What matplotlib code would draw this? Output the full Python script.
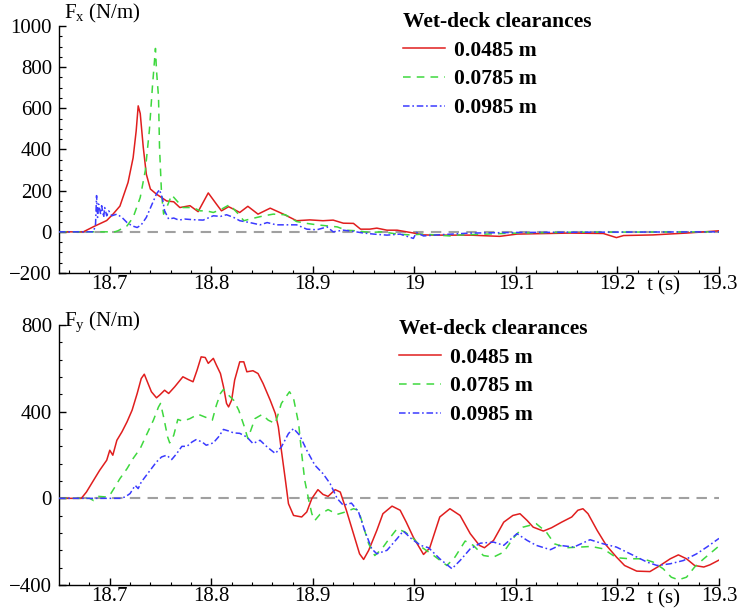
import matplotlib
matplotlib.use("Agg")
import matplotlib.pyplot as plt
from matplotlib.ticker import MultipleLocator, FuncFormatter
from matplotlib.lines import Line2D

plt.rcParams['font.family'] = ['Liberation Serif', 'DejaVu Serif']
plt.rcParams['mathtext.fontset'] = 'custom'
plt.rcParams['mathtext.rm'] = 'Liberation Serif'

# ---- Fx time series (N/m) ----
fx_t_0485 = [18.650, 18.674, 18.684, 18.697, 18.703, 18.710, 18.718, 18.723, 18.726, 18.728,
             18.730, 18.733, 18.736, 18.740, 18.746, 18.756, 18.763, 18.769, 18.779, 18.787,
             18.797, 18.805, 18.810, 18.817, 18.822, 18.828, 18.836, 18.846, 18.858, 18.871,
             18.884, 18.897, 18.910, 18.920, 18.930, 18.940, 18.947, 18.956, 18.963, 18.973,
             18.983, 18.996, 19.009, 19.022, 19.055, 19.084, 19.101, 19.153, 19.186, 19.199,
             19.206, 19.235, 19.268, 19.300]
fx_v_0485 = [0, 0, 25, 55, 85, 125, 240, 360, 490, 612,
             575, 410, 280, 208, 183, 150, 146, 118, 127, 98,
             189, 135, 102, 122, 110, 94, 124, 86, 115, 86,
             54, 58, 54, 57, 42, 41, 13, 13, 18, 8,
             8, -3, -15, -16, -16, -22, -11, -6, -8, -28,
             -18, -15, -6, 5]

fx_t_0785 = [18.650, 18.705, 18.708, 18.717, 18.723, 18.730, 18.735, 18.739, 18.742, 18.745,
             18.746, 18.748, 18.749, 18.751, 18.753, 18.756, 18.761, 18.766, 18.772, 18.782,
             18.789, 18.795, 18.802, 18.810, 18.818, 18.826, 18.832, 18.838, 18.851, 18.861,
             18.873, 18.884, 18.894, 18.904, 18.914, 18.924, 18.933, 18.943, 18.956, 18.969,
             18.983, 18.996, 19.009, 19.035, 19.040, 19.070, 19.101, 19.153, 19.300]
fx_v_0785 = [0, 0, 5, 29, 70, 167, 298, 493, 704, 891,
             785, 655, 411, 184, 86, 118, 179, 151, 118, 118,
             102, 102, 94, 110, 132, 90, 54, 62, 77, 86,
             83, 50, 41, 34, 29, 24, 8, 5, -3, 0,
             -11, -15, -11, -20, -16, -11, -6, -2, 0]

fx_t_0985 = [18.650, 18.684, 18.686, 18.687, 18.688, 18.689, 18.691, 18.692, 18.694, 18.695,
             18.697, 18.699, 18.702, 18.707, 18.712, 18.717, 18.722, 18.727, 18.731, 18.736,
             18.741, 18.746, 18.749, 18.752, 18.754, 18.758, 18.763, 18.768, 18.774, 18.782,
             18.792, 18.802, 18.809, 18.815, 18.822, 18.828, 18.838, 18.848, 18.855, 18.864,
             18.874, 18.884, 18.894, 18.904, 18.914, 18.920, 18.930, 18.940, 18.950, 18.960,
             18.973, 18.986, 18.999, 19.002, 19.009, 19.022, 19.055, 19.101, 19.153, 19.300]
fx_v_0985 = [0, 0, 37, 176, 70, 135, 86, 127, 70, 118,
             78, 102, 78, 86, 70, 45, 29, 21, 34, 70,
             127, 184, 205, 159, 102, 62, 67, 57, 62, 59,
             57, 78, 75, 83, 70, 54, 45, 34, 45, 34,
             34, 34, 13, 10, 24, 0, 8, 2, -6, -11,
             -16, -11, -32, -3, -20, -15, -6, -3, -2, 0]

# ---- Fy time series (N/m) ----
fy_t_0485 = [18.650, 18.672, 18.677, 18.684, 18.690, 18.697, 18.700, 18.703, 18.707, 18.712,
             18.717, 18.722, 18.727, 18.731, 18.734, 18.737, 18.741, 18.746, 18.749, 18.754,
             18.758, 18.764, 18.772, 18.777, 18.782, 18.786, 18.790, 18.794, 18.797, 18.802,
             18.805, 18.809, 18.812, 18.815, 18.817, 18.820, 18.823, 18.828, 18.832, 18.835,
             18.841, 18.846, 18.851, 18.858, 18.863, 18.866, 18.869, 18.873, 18.876, 18.881,
             18.889, 18.894, 18.899, 18.905, 18.910, 18.915, 18.922, 18.927, 18.933, 18.940,
             18.946, 18.950, 18.955, 18.963, 18.969, 18.978, 18.986, 18.992, 18.999, 19.009,
             19.015, 19.025, 19.035, 19.045, 19.055, 19.064, 19.069, 19.078, 19.088, 19.097,
             19.104, 19.111, 19.117, 19.127, 19.135, 19.145, 19.155, 19.161, 19.166, 19.171,
             19.180, 19.189, 19.199, 19.207, 19.219, 19.232, 19.242, 19.252, 19.260, 19.268,
             19.276, 19.285, 19.291, 19.300]
fy_v_0485 = [0, 0, 29, 83, 129, 176, 222, 199, 268, 307,
             353, 407, 484, 553, 573, 538, 492, 464, 476, 499,
             484, 515, 561, 549, 538, 592, 653, 650, 623, 646,
             615, 576, 515, 438, 422, 453, 546, 630, 630, 584,
             589, 576, 530, 453, 392, 330, 222, 83, -25, -79,
             -86, -63, -1, 40, 18, 9, 40, 29, -55, -163,
             -256, -282, -240, -148, -71, -36, -55, -110, -180, -259,
             -230, -86, -48, -79, -163, -217, -228, -194, -110, -79,
             -71, -102, -133, -151, -136, -110, -86, -55, -48, -71,
             -148, -217, -271, -310, -336, -338, -310, -279, -261, -279,
             -310, -317, -307, -285]

fy_t_0785 = [18.650, 18.680, 18.684, 18.689, 18.697, 18.700, 18.705, 18.710, 18.717, 18.723,
             18.730, 18.736, 18.743, 18.748, 18.750, 18.753, 18.757, 18.759, 18.763, 18.767,
             18.772, 18.779, 18.787, 18.795, 18.801, 18.805, 18.809, 18.812, 18.817, 18.822,
             18.827, 18.832, 18.836, 18.843, 18.850, 18.856, 18.863, 18.869, 18.877, 18.881,
             18.886, 18.889, 18.892, 18.896, 18.899, 18.902, 18.907, 18.915, 18.924, 18.932,
             18.940, 18.945, 18.950, 18.955, 18.961, 18.968, 18.974, 18.983, 18.991, 18.999,
             19.007, 19.019, 19.032, 19.040, 19.050, 19.058, 19.068, 19.078, 19.088, 19.097,
             19.107, 19.120, 19.130, 19.138, 19.150, 19.163, 19.174, 19.186, 19.199, 19.212,
             19.225, 19.235, 19.245, 19.253, 19.260, 19.268, 19.276, 19.285, 19.300]
fy_v_0785 = [0, 0, -10, 9, 6, 14, 52, 91, 137, 184,
             230, 291, 361, 422, 438, 376, 283, 256, 291, 364,
             356, 368, 388, 373, 361, 430, 484, 503, 476, 453,
             407, 338, 276, 368, 387, 361, 345, 438, 492, 461,
             345, 207, 83, -9, -71, -102, -74, -52, -74, -63,
             -48, -55, -133, -210, -264, -233, -194, -140, -156, -186,
             -225, -264, -310, -271, -197, -217, -264, -271, -248, -186,
             -133, -117, -156, -210, -228, -225, -222, -233, -274, -279,
             -279, -294, -325, -364, -376, -364, -317, -279, -220]

fy_t_0985 = [18.650, 18.710, 18.715, 18.720, 18.725, 18.728, 18.731, 18.736, 18.741, 18.746,
             18.751, 18.756, 18.761, 18.766, 18.771, 18.776, 18.781, 18.785, 18.791, 18.795,
             18.802, 18.807, 18.812, 18.817, 18.822, 18.828, 18.835, 18.841, 18.848, 18.855,
             18.863, 18.869, 18.876, 18.881, 18.887, 18.894, 18.902, 18.910, 18.917, 18.924,
             18.930, 18.938, 18.945, 18.951, 18.958, 18.963, 18.973, 18.983, 18.989, 18.997,
             19.006, 19.014, 19.025, 19.037, 19.045, 19.055, 19.065, 19.078, 19.088, 19.101,
             19.111, 19.120, 19.134, 19.143, 19.157, 19.173, 19.186, 19.199, 19.216, 19.229,
             19.239, 19.252, 19.265, 19.278, 19.288, 19.300]
fy_v_0985 = [0, 0, 6, 22, 60, 45, 75, 106, 137, 168,
             191, 199, 179, 207, 240, 240, 260, 271, 260, 245,
             256, 283, 318, 311, 302, 300, 283, 253, 268, 237,
             207, 237, 299, 322, 291, 222, 153, 114, 68, -1,
             -32, -22, -63, -148, -233, -256, -240, -186, -151, -186,
             -217, -228, -279, -325, -287, -233, -207, -202, -217, -163,
             -194, -217, -237, -217, -225, -191, -210, -225, -264, -294,
             -310, -302, -287, -256, -225, -185]

labels = ['0.0485 m', '0.0785 m', '0.0985 m']
colors = ['#e01e1e', '#3ed83e', '#3a3aff']
styles = ['-', (0, (5, 4)), (0, (4.3, 1.8, 1.1, 1.8))]

FS = 15
W, H = 738, 614
fig = plt.figure(figsize=(W / 100, H / 100), dpi=100)


def px_box(left, top, right, bottom):
    return [left / W, 1 - bottom / H, (right - left) / W, (bottom - top) / H]


ax1 = fig.add_axes(px_box(59, 26, 719, 273))
ax2 = fig.add_axes(px_box(59, 325, 719, 585))


def style_axis(ax, ylim, ymajor, yminor):
    ax.set_xlim(18.65, 19.3)
    ax.set_ylim(*ylim)
    for s in ['top', 'right']:
        ax.spines[s].set_visible(False)
    for s in ['left', 'bottom']:
        ax.spines[s].set_linewidth(1.0)
    ax.xaxis.set_major_locator(MultipleLocator(0.1))
    ax.xaxis.set_minor_locator(MultipleLocator(0.02))
    ax.yaxis.set_major_locator(MultipleLocator(ymajor))
    ax.yaxis.set_minor_locator(MultipleLocator(yminor))
    ax.xaxis.set_major_formatter(FuncFormatter(lambda v, _: f'{v:g}'))
    ax.tick_params(which='major', direction='in', length=5, width=1.0,
                   labelsize=FS)
    ax.tick_params(which='minor', direction='in', length=2.5, width=0.8)
    ax.tick_params(axis='x', which='major', pad=1.5)
    ax.tick_params(axis='y', which='major', pad=5)
    ax.axhline(0, color='#a0a0a0', lw=1.5, ls=(0, (5, 3.5)), zorder=1)


def draw_series(ax, series):
    for (t, v), c, ls in zip(series, colors, styles):
        ax.plot(t, v, color=c, lw=1.1, ls=ls, zorder=3)


def add_legend(ax, left, top):
    handles = [Line2D([], [], color=c, lw=1.1, ls=ls) for c, ls in zip(colors, styles)]
    ax.legend(handles, labels, title='Wet-deck clearances',
              loc='upper left', bbox_to_anchor=(left / W, 1 - top / H),
              bbox_transform=fig.transFigure, frameon=False,
              prop={'size': 15.5, 'weight': 'bold'},
              title_fontproperties={'size': 15.5, 'weight': 'bold'},
              alignment='left', handlelength=1.95, handletextpad=0.42,
              labelspacing=0.4, borderpad=0, borderaxespad=0)


style_axis(ax1, (-200, 1000), 200, 50)
draw_series(ax1, [(fx_t_0485, fx_v_0485), (fx_t_0785, fx_v_0785), (fx_t_0985, fx_v_0985)])
add_legend(ax1, 403, 12)

style_axis(ax2, (-400, 800), 400, 80)
draw_series(ax2, [(fy_t_0485, fy_v_0485), (fy_t_0785, fy_v_0785), (fy_t_0985, fy_v_0985)])
add_legend(ax2, 399, 319)

# axis titles
fig.text(64 / W, 1 - 18 / H, r'$\mathregular{F_x}$ (N/m)', fontsize=FS, va='baseline')
fig.text(64 / W, 1 - 326 / H, r'$\mathregular{F_y}$ (N/m)', fontsize=FS, va='baseline')
fig.text(647 / W, 1 - 290 / H, 't (s)', fontsize=FS, va='baseline')
fig.text(647 / W, 1 - 603 / H, 't (s)', fontsize=FS, va='baseline')

fig.savefig('out.png', dpi=100)
